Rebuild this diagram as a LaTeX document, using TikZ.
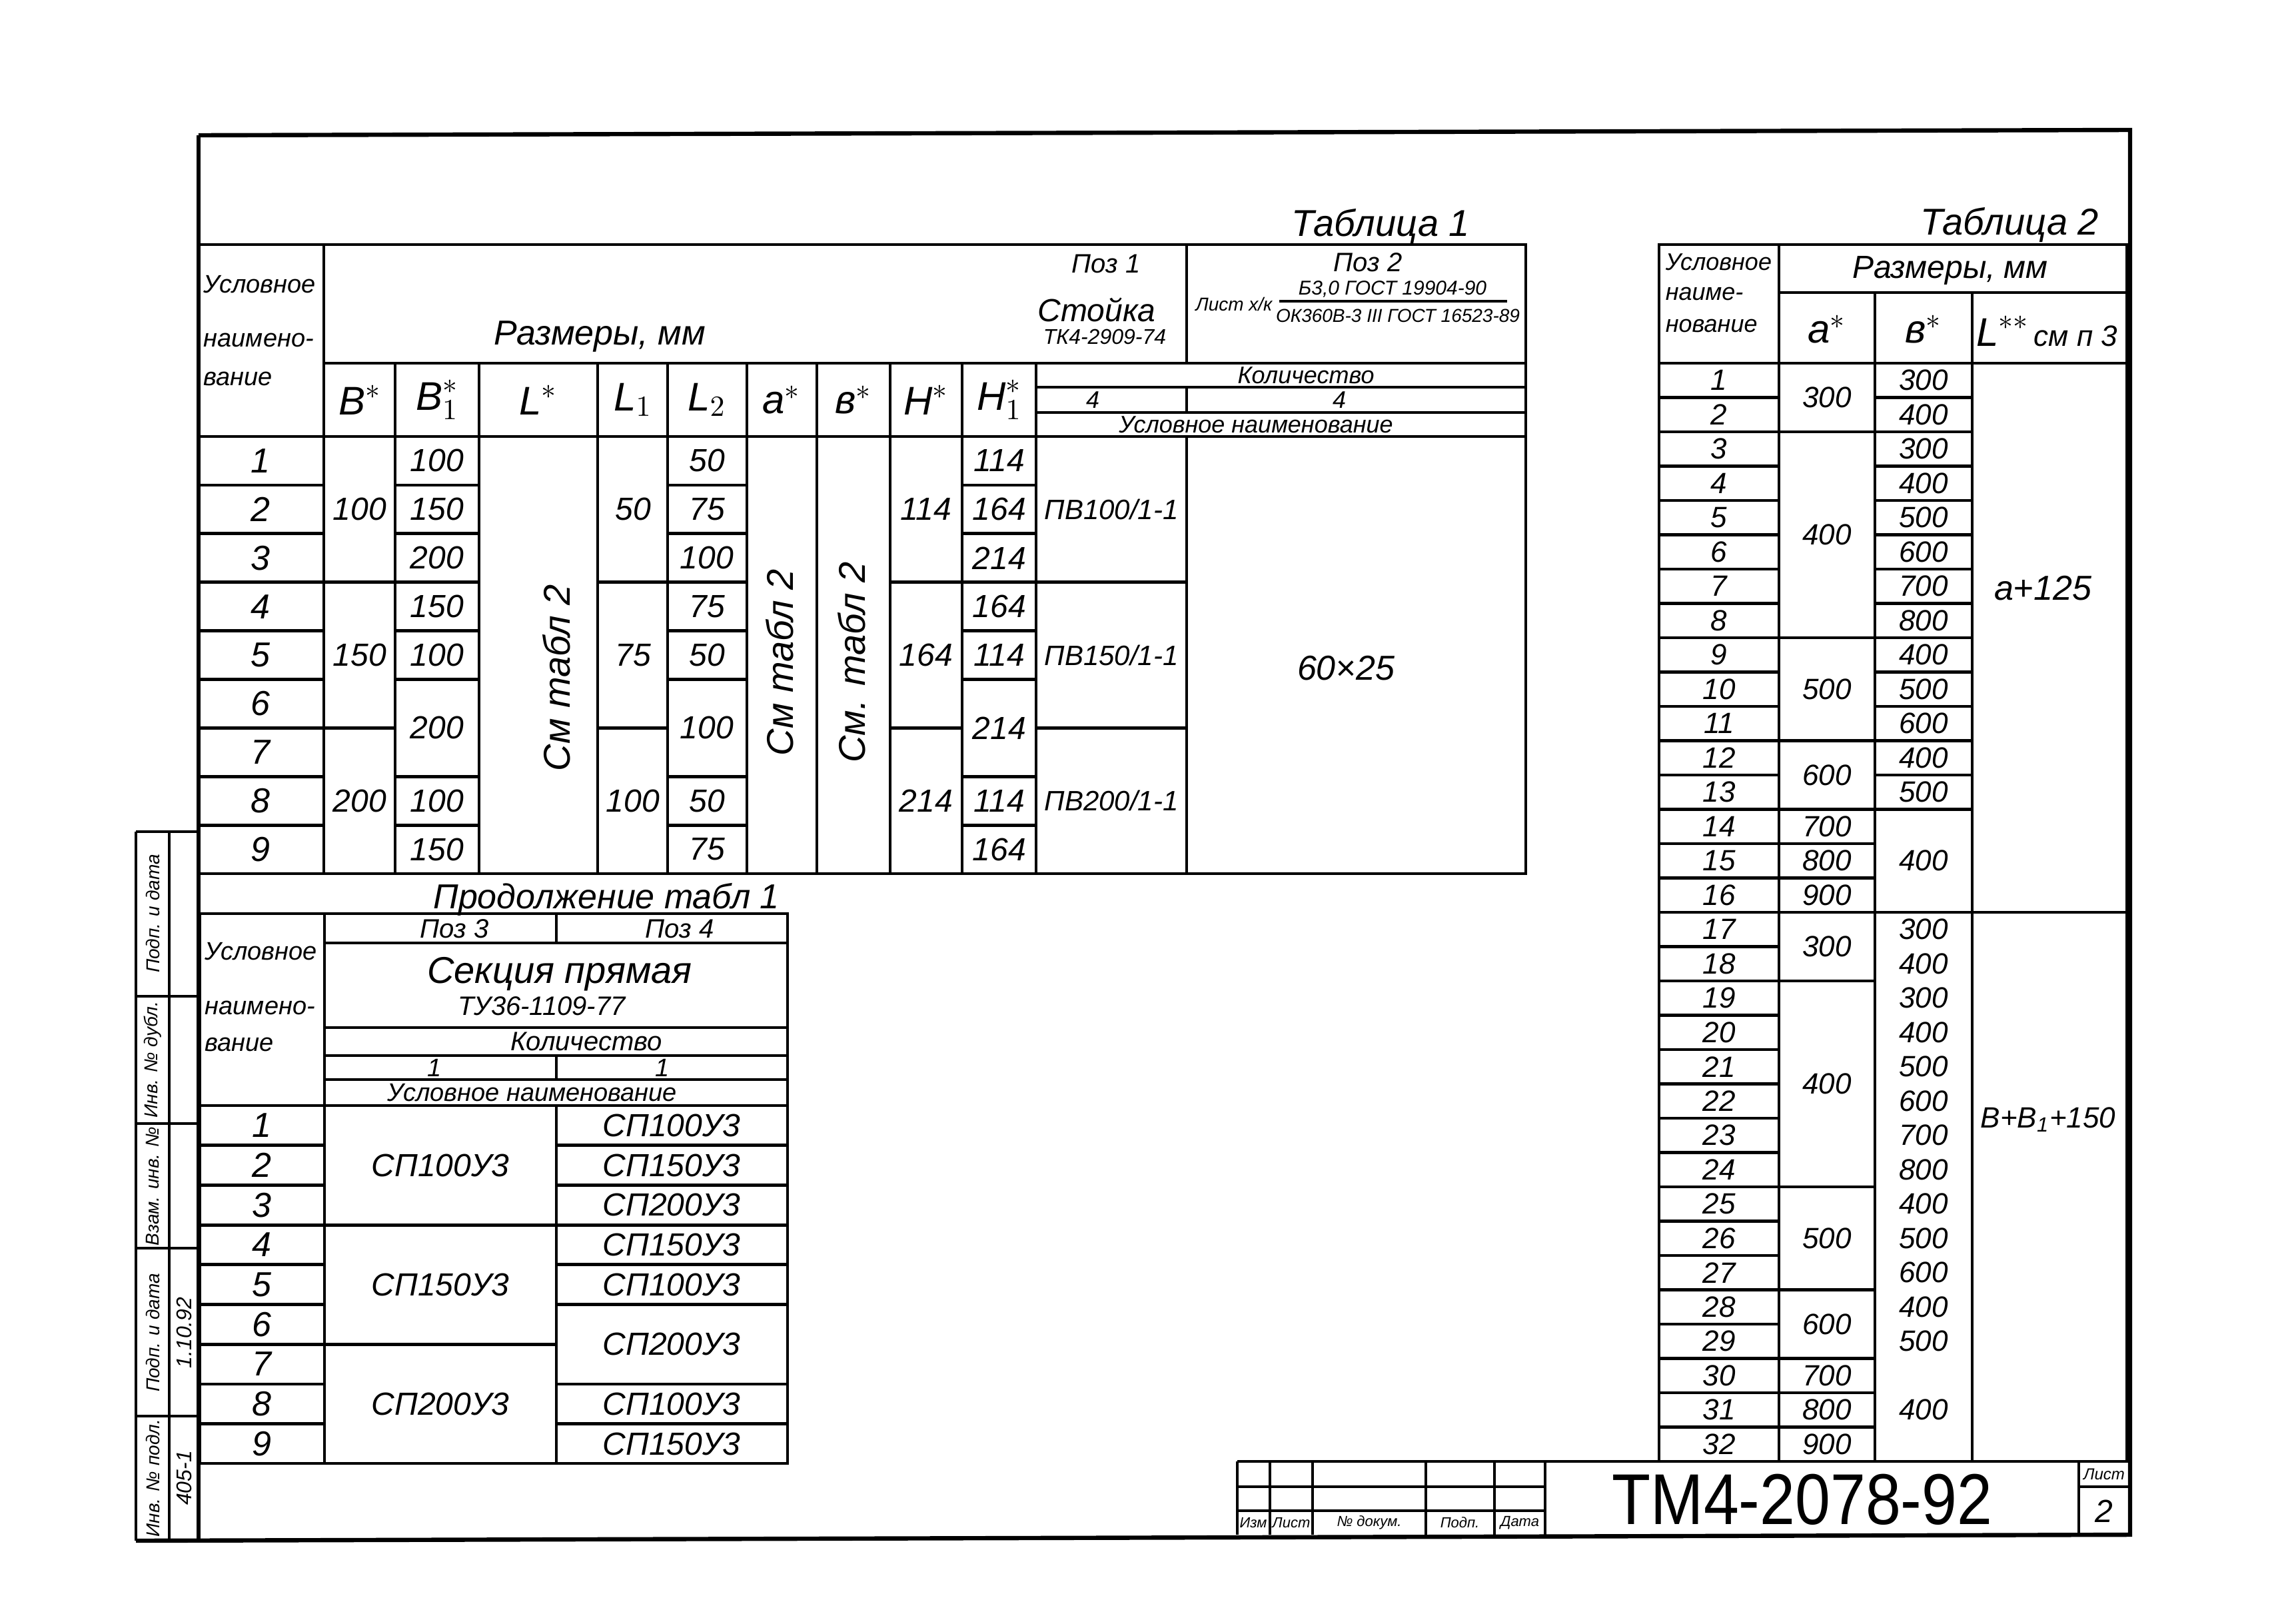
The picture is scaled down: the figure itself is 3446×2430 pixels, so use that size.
\documentclass[tikz,border=0pt]{standalone}
\usepackage{fontspec}
\setmainfont{Liberation Sans}
\usepackage{tikz}
\usetikzlibrary{positioning}

\tikzset{
  tline/.style={line width=1.2pt},
  fline/.style={line width=1.6pt},
  hw/.style={inner sep=0.75pt, font=\itshape\fontsize{#1}{#1}\selectfont},
  hw/.default=12,
  rt/.style={hw=#1, rotate=90},
  rt/.default=13
}

\begin{document}
\begin{tikzpicture}[x=0.25pt,y=0.25pt,yscale=-1,xscale=1]
\useasboundingbox (0,0) rectangle (3446,2430);

%Shape: sheet frame
\draw[fline] (298,203) -- (3197,195) -- (3197,2303) -- (204,2312);
\draw[fline] (298,203) -- (298,2312);

%Shape: left strip
\draw[tline] (204,1248) -- (204,2312);
\draw[tline] (254,1248) -- (254,2312);
\foreach \y in {1248,1495,1686,1873,2125}
  \draw[tline] (204,\y) -- (298,\y);

% Text Node
\node[rt=7] (sp1) at (229,1371) {Подп. и дата};
\node[rt=7] (sinv) at (229,1590) {Инв. № дубл.};
\node[rt=7] (svz) at (229,1780) {Взам. инв. №};
\node[rt=7] (sp2) at (229,2000) {Подп. и дата};
\node[rt=7] (spodl) at (229,2218) {Инв. № подл.};
\node[rt=8] (sdate) at (276,2000) {1.10.92};
\node[rt=8] (snum) at (276,2218) {405-1};

%Shape: Table 1
\draw[tline] (297,367) rectangle (2290,1311);
\draw[tline] (486,545) -- (2290,545);
\draw[tline] (1555,581) -- (2290,581);
\draw[tline] (1555,619) -- (2290,619);
\draw[tline] (297,655) -- (2290,655);
\draw[tline] (486,367) -- (486,1311);
\foreach \x in {593,719,897,1002,1121,1226,1336,1444,1555}
  \draw[tline] (\x,545) -- (\x,1311);
\draw[tline] (1781,367) -- (1781,545);
\draw[tline] (1781,581) -- (1781,619);
\draw[tline] (1781,655) -- (1781,1311);
% row lines
\foreach \i in {1,...,8}
  \draw[tline] (297,{655+72.9*\i}) -- (486,{655+72.9*\i});
\foreach \xa/\xb in {486/593,897/1002,1336/1444,1555/1781}
  \foreach \i in {3,6}
    \draw[tline] (\xa,{655+72.9*\i}) -- (\xb,{655+72.9*\i});
\foreach \xa/\xb in {593/719,1002/1121,1444/1555}
  \foreach \i in {1,2,3,4,5,7,8}
    \draw[tline] (\xa,{655+72.9*\i}) -- (\xb,{655+72.9*\i});

% Text Node
\node[hw=14] (tab1) at (2072,340) {Таблица 1};
\node[hw=9.5,anchor=west] (h1a) at (302,427) {Условное};
\node[hw=9.5,anchor=west] (h1b) at (302,510) {наимено-};
\node[hw=9.5,anchor=west] (h1c) at (302,568) {вание};
\node[hw=13] (razm1) at (900,505) {Размеры, мм};
\node[hw=15] (hB) at (540,600) {$\textit{B}^{*}$};
\node[hw=15] (hBa) at (656,600) {$\textit{B}_{1}^{*}$};
\node[hw=15] (hL) at (808,600) {$\textit{L}^{*}$};
\node[hw=15] (hLa) at (950,600) {$\textit{L}_{1}$};
\node[hw=15] (hLb) at (1061,600) {$\textit{L}_{2}$};
\node[hw=15] (ha) at (1173,600) {$\textit{a}^{*}$};
\node[hw=15] (hb) at (1281,600) {$\textit{в}^{*}$};
\node[hw=15] (hH) at (1390,600) {$\textit{H}^{*}$};
\node[hw=15] (hHa) at (1500,600) {$\textit{H}_{1}^{*}$};
\node[hw=10] (poz1) at (1660,396) {Поз 1};
\node[hw=12] (stoj) at (1646,465) {Стойка};
\node[hw=8] (stojtu) at (1658,505) {ТК4-2909-74};
\node[hw=10] (poz2) at (2053,394) {Поз 2};
\node[hw=7] (list) at (1852,456) {Лист х/к};
\node[hw=7.5] (numr) at (2090,434) {Б3,0 ГОСТ 19904-90};
\node[hw=7] (denr) at (2098,474) {ОК360В-3 III ГОСТ 16523-89};
\draw[line width=0.8pt] (1920,452) -- (2262,452);
\node[hw=9,inner sep=0pt] (kol1) at (1960,563) {Количество};
\node[hw=9,inner sep=0pt] (kol1a) at (1640,600) {4};
\node[hw=9,inner sep=0pt] (kol1b) at (2010,600) {4};
\node[hw=9,inner sep=0pt] (un1) at (1885,637) {Условное наименование};

% row numbers
\foreach \i in {1,...,9}
  \node[hw=13] (ta\i) at (391,{655+72.9*(\i-0.5)}) {\i};
\foreach \v/\r [count=\k] in {100/2,150/5,200/8}
  \node[hw=12] (tb\k) at (540,{655+72.9*(\r-0.5)}) {\v};
\foreach \v/\r [count=\k] in {100/1,150/2,200/3,150/4,100/5,200/6.5,100/8,150/9}
  \node[hw=12] (tba\k) at (656,{655+72.9*(\r-0.5)}) {\v};
\foreach \v/\r [count=\k] in {50/2,75/5,100/8}
  \node[hw=12] (tla\k) at (950,{655+72.9*(\r-0.5)}) {\v};
\foreach \v/\r [count=\k] in {50/1,75/2,100/3,75/4,50/5,100/6.5,50/8,75/9}
  \node[hw=12] (tlb\k) at (1061,{655+72.9*(\r-0.5)}) {\v};
\foreach \v/\r [count=\k] in {114/2,164/5,214/8}
  \node[hw=12] (th\k) at (1390,{655+72.9*(\r-0.5)}) {\v};
\foreach \v/\r [count=\k] in {114/1,164/2,214/3,164/4,114/5,214/6.5,114/8,164/9}
  \node[hw=12] (tha\k) at (1500,{655+72.9*(\r-0.5)}) {\v};
\node[rt=14] (seeL) at (835,1017) {См табл 2};
\node[rt=14] (seea) at (1170,994) {См табл 2};
\node[rt=14] (seeb) at (1278,994) {См. табл 2};
\node[hw=10.5] (pv1) at (1668,{655+72.9*1.5}) {ПВ100/1-1};
\node[hw=10.5] (pv2) at (1668,{655+72.9*4.5}) {ПВ150/1-1};
\node[hw=10.5] (pv3) at (1668,{655+72.9*7.5}) {ПВ200/1-1};
\node[hw=13] (list2) at (2020,1003) {60×25};

%Shape: Table 1 continued
\draw[tline] (300,1371) rectangle (1182,2196);
\draw[tline] (487,1371) -- (487,2196);
\draw[tline] (835,1371) -- (835,1415);
\draw[tline] (835,1584) -- (835,1620);
\draw[tline] (835,1659) -- (835,2196);
\foreach \y in {1415,1542,1584,1620}
  \draw[tline] (487,\y) -- (1182,\y);
\draw[tline] (300,1659) -- (1182,1659);
\foreach \i in {1,...,8}
  \draw[tline] (300,{1659+59.7*\i}) -- (487,{1659+59.7*\i});
\foreach \i in {3,6}
  \draw[tline] (487,{1659+59.7*\i}) -- (835,{1659+59.7*\i});
\foreach \i in {1,2,3,4,5,7,8}
  \draw[tline] (835,{1659+59.7*\i}) -- (1182,{1659+59.7*\i});

% Text Node
\node[hw=13] (prod) at (910,1350) {Продолжение табл 1};
\node[hw=9.5,anchor=west] (h3a) at (304,1428) {Условное};
\node[hw=9.5,anchor=west] (h3b) at (304,1512) {наимено-};
\node[hw=9.5,anchor=west] (h3c) at (304,1567) {вание};
\node[hw=10,inner sep=0pt] (poz3) at (682,1394) {Поз 3};
\node[hw=10,inner sep=0pt] (poz4) at (1020,1394) {Поз 4};
\node[hw=14] (sek) at (840,1462) {Секция прямая};
\node[hw=10] (sektu) at (813,1510) {ТУ36-1109-77};
\node[hw=10,inner sep=0pt] (kol3) at (880,1563) {Количество};
\node[hw=9.5,inner sep=0pt] (kol3a) at (652,1602) {1};
\node[hw=9.5,inner sep=0pt] (kol3b) at (994,1602) {1};
\node[hw=9.5,inner sep=0pt] (un3) at (799,1640) {Условное наименование};
\foreach \i in {1,...,9}
  \node[hw=13] (tc\i) at (393,{1659+59.7*(\i-0.5)}) {\i};
\foreach \v/\r [count=\k] in {СП100У3/2,СП150У3/5,СП200У3/8}
  \node[hw=12] (tcp\k) at (661,{1659+59.7*(\r-0.5)}) {\v};
\foreach \v/\r [count=\k] in {СП100У3/1,СП150У3/2,СП200У3/3,СП150У3/4,СП100У3/5,СП200У3/6.5,СП100У3/8,СП150У3/9}
  \node[hw=12] (tcq\k) at (1008,{1659+59.7*(\r-0.5)}) {\v};

%Shape: Table 2
\draw[tline] (2490,367) rectangle (3192,2193);
\draw[tline] (2670,439) -- (3192,439);
\draw[tline] (2490,545) -- (3192,545);
\draw[tline] (2670,367) -- (2670,2193);
\draw[tline] (2814,439) -- (2814,2193);
\draw[tline] (2960,439) -- (2960,2193);
\foreach \i in {1,...,31}
  \draw[tline] (2490,{545+51.5*\i}) -- (2670,{545+51.5*\i});
\foreach \i in {2,8,11,13,14,15,16,18,24,27,29,30,31}
  \draw[tline] (2670,{545+51.5*\i}) -- (2814,{545+51.5*\i});
\foreach \i in {1,...,13,16,...,29}
  \draw[tline] (2814,{545+51.5*\i}) -- (2960,{545+51.5*\i});
\draw[tline] (2960,{545+51.5*16}) -- (3192,{545+51.5*16});

% Text Node
\node[hw=14] (tab2) at (3016,338) {Таблица 2};
\node[hw=9,anchor=west] (h2a) at (2496,393) {Условное};
\node[hw=9,anchor=west] (h2b) at (2496,441) {наиме-};
\node[hw=9,anchor=west] (h2c) at (2496,489) {нование};
\node[hw=12] (razm2) at (2927,406) {Размеры, мм};
\node[hw=15] (h2a1) at (2742,494) {$\textit{a}^{*}$};
\node[hw=15] (h2b1) at (2887,494) {$\textit{в}^{*}$};
\node[hw=15] (h2l1) at (3072,497) {$\textit{L}^{**}$\fontsize{11}{11}\selectfont\,см п 3};
\foreach \i in {1,...,32}
  \node[hw=11] (tn\i) at (2580,{545+51.5*(\i-0.5)}) {\i};
\foreach \v/\r [count=\k] in {300/1.5,400/5.5,500/10,600/12.5,700/14,800/15,900/16,300/17.5,400/21.5,500/26,600/28.5,700/30,800/31,900/32}
  \node[hw=11] (tna\k) at (2742,{545+51.5*(\r-0.5)}) {\v};
\foreach \v/\r [count=\k] in {300/1,400/2,300/3,400/4,500/5,600/6,700/7,800/8,400/9,500/10,600/11,400/12,500/13,400/15,300/17,400/18,300/19,400/20,500/21,600/22,700/23,800/24,400/25,500/26,600/27,400/28,500/29,400/31}
  \node[hw=11] (tnb\k) at (2887,{545+51.5*(\r-0.5)}) {\v};
\node[hw=13] (la) at (3066,883) {\textit{a}+125};
\node[hw=11] (lb) at (3074,1680) {B+B\textsubscript{1}+150};

%Shape: title block
\draw[tline] (1857,2193) -- (3197,2193);
\draw[tline] (1857,2193) -- (1857,2303);
\foreach \x in {1906,1970,2140,2243,2319,3120}
  \draw[tline] (\x,2193) -- (\x,2303);
\draw[tline] (1857,2231) -- (2319,2231);
\draw[tline] (1857,2267) -- (2319,2267);
\draw[tline] (3120,2231) -- (3197,2231);

% Text Node
\node[hw=5.5] (tizm) at (1881,2285) {Изм};
\node[hw=5.5] (tlist) at (1938,2285) {Лист};
\node[hw=5.5] (tdoc) at (2055,2285) {№ докум.};
\node[hw=5.5] (tpodp) at (2191,2285) {Подп.};
\node[hw=5.5] (tdata) at (2281,2285) {Дата};
\node[inner sep=0.75pt, font=\fontsize{27}{27}\selectfont, xscale=0.88] (code) at (2705,2250) {ТМ4-2078-92};
\node[hw=6] (tsheet) at (3158,2212) {Лист};
\node[hw=12] (tsheetn) at (3158,2268) {2};

\end{tikzpicture}
\end{document}
